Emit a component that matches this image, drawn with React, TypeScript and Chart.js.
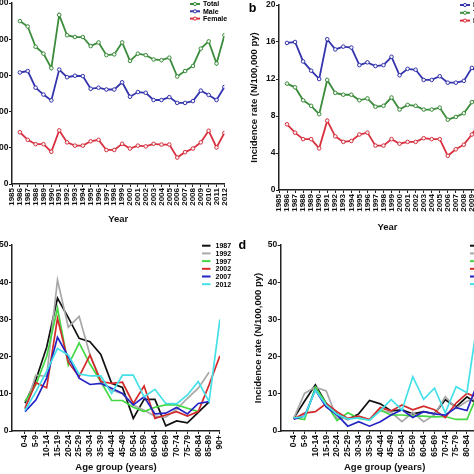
import React, { useEffect, useRef } from 'react';
import { Chart, registerables } from 'chart.js';

Chart.register(...registerables);

const FONT = '"Liberation Sans", Arial, Helvetica, sans-serif';

// ---------- panels a & b : calendar year ----------
const tickYears = [1985, 1986, 1987, 1988, 1989, 1990, 1991, 1992, 1993, 1994, 1995, 1996, 1997, 1998, 1999, 2000, 2001, 2002, 2003, 2004, 2005, 2006, 2007, 2008, 2009, 2010, 2011, 2012];
const dataYears = [1986, 1987, 1988, 1989, 1990, 1991, 1992, 1993, 1994, 1995, 1996, 1997, 1998, 1999, 2000, 2001, 2002, 2003, 2004, 2005, 2006, 2007, 2008, 2009, 2010, 2011, 2012];

const caseTicks = [0, 500, 1000, 1500, 2000, 2500];
const totalCases = [2250, 2175, 1895, 1800, 1600, 2335, 2055, 2030, 2030, 1905, 1955, 1780, 1790, 1955, 1700, 1800, 1780, 1720, 1710, 1745, 1485, 1560, 1630, 1870, 1970, 1665, 2055];
const maleCases = [1540, 1560, 1330, 1235, 1155, 1580, 1475, 1495, 1490, 1315, 1330, 1305, 1305, 1405, 1205, 1270, 1260, 1160, 1160, 1200, 1120, 1120, 1145, 1290, 1230, 1160, 1340];
const femaleCases = [715, 610, 550, 550, 445, 740, 575, 530, 530, 590, 610, 470, 470, 555, 490, 530, 520, 555, 545, 545, 365, 440, 490, 575, 735, 505, 705];

const rateTicks = [0, 4, 8, 12, 16, 20];
const maleRate = [15.9, 16.0, 13.9, 12.9, 12.0, 16.3, 15.2, 15.5, 15.4, 13.5, 13.8, 13.4, 13.5, 14.4, 12.4, 13.1, 13.0, 11.9, 11.9, 12.3, 11.6, 11.6, 11.8, 13.2, 12.6, 11.9, 13.7];
const totalRate = [11.5, 11.1, 9.7, 9.1, 8.2, 11.9, 10.5, 10.3, 10.3, 9.7, 9.9, 9.0, 9.1, 10.0, 8.7, 9.2, 9.1, 8.7, 8.7, 8.9, 7.6, 7.9, 8.3, 9.5, 10.0, 8.5, 10.4];
const femaleRate = [7.1, 6.2, 5.5, 5.5, 4.5, 7.5, 5.8, 5.2, 5.3, 6.0, 6.2, 4.8, 4.8, 5.5, 5.0, 5.2, 5.2, 5.6, 5.5, 5.5, 3.7, 4.4, 4.9, 6.0, 7.3, 5.0, 6.9];

// ---------- panels c & d : age group ----------
const ageGroups = ['0-4', '5-9', '10-14', '15-19', '20-24', '25-29', '30-34', '35-39', '40-44', '45-49', '50-54', '55-59', '60-64', '65-69', '70-74', '75-79', '80-84', '85-89', '90+'];
const ageRateTicks = [0, 10, 20, 30, 40, 50];

const cRate1987 = [7.5, 13.7, 22.5, 35.7, 30.5, 24.9, 24.0, 20.6, 12.8, 11.7, 3.4, 8.5, 8.5, 1.4, 2.7, 2.2, 5.0, 7.8, null];
const cRate1992 = [6.0, 15.0, 14.7, 40.6, 27.9, 30.8, 20.5, 13.7, 11.0, 10.0, 7.0, 5.6, 4.0, 3.7, 5.8, 8.8, 11.5, 15.8, null];
const cRate1997 = [8.0, 12.4, 20.0, 33.0, 17.7, 23.7, 18.0, 13.3, 8.2, 8.2, 6.4, 5.2, 6.4, 7.0, 7.0, 6.1, 5.2, null, null];
const cRate2002 = [6.0, 13.0, 11.6, 30.3, 18.5, 14.6, 20.4, 13.3, 12.8, 13.1, 7.4, 12.1, 3.4, 4.3, 5.2, 4.0, 5.2, 12.4, 20.2];
const cRate2007 = [5.2, 8.3, 14.2, 25.2, 20.0, 14.2, 12.5, 12.8, 11.5, 10.1, 7.0, 9.2, 4.6, 4.8, 6.3, 4.6, 7.4, 7.9, null];
const cRate2012 = [5.5, 10.5, 16.0, 22.2, 20.4, 15.3, 14.8, 14.8, 10.1, 15.0, 15.0, 9.2, 11.2, 7.4, 7.3, 9.7, 13.3, 7.9, 30.0];

const dRate1987 = [3.4, 8.0, 12.4, 7.4, 4.6, 3.1, 4.6, 8.2, 7.3, 5.4, 5.7, 4.6, 5.2, 4.6, 8.4, 6.5, 9.2, 7.2, 8.0];
const dRate1992 = [3.4, 10.1, 11.8, 10.8, 3.4, 3.3, 3.8, 3.0, 5.5, 5.0, 2.5, 5.0, 2.5, 4.3, 9.2, 6.1, 8.0, 9.0, 9.0];
const dRate1997 = [3.6, 3.1, 11.8, 7.4, 2.8, 4.9, 3.4, 3.0, 5.6, 4.3, 4.3, 4.0, 4.0, 3.8, 3.9, 3.1, 3.1, 10.0, 10.0];
const dRate2002 = [3.2, 4.8, 5.2, 7.4, 5.2, 3.4, 4.0, 3.1, 6.3, 5.4, 7.0, 5.7, 6.7, 5.7, 3.6, 7.5, 10.1, 9.0, 10.0];
const dRate2007 = [3.2, 4.0, 11.0, 6.5, 4.3, 1.3, 2.5, 1.3, 2.5, 4.3, 5.7, 3.6, 5.2, 4.6, 4.3, 6.3, 5.5, 13.0, 11.0];
const dRate2012 = [3.5, 3.9, 11.0, 7.0, 4.5, 3.2, 3.5, 2.9, 5.5, 8.5, 5.6, 14.6, 8.5, 11.5, 4.9, 11.9, 10.3, 30.0, 30.0];

// ---------- colours ----------
const GREEN = '#3b8c3b';
const BLUE = '#3434ae';
const RED = '#d8303e';
const C1987 = '#111111';
const C1992 = '#a8a8a8';
const C1997 = '#44d844';
const C2002 = '#d42a2a';
const C2007 = '#2424c4';
const C2012 = '#44e0e8';

type Geo = { left: number; top: number; w: number; h: number };
type Area = { l: number; t: number; r: number; b: number };
type Series = { label: string; values: (number | null)[]; color: string };
type LegendSpec = { x: number; y: number; dy: number; len: number; gap: number; marker: boolean };
type PanelSpec = {
  key: string;
  cv: Geo;
  area: Area;
  kind: 'year' | 'age';
  series: Series[];
  yTicks: number[];
  yTitle?: string;
  yTitleX?: number;
  xTitle: string;
  xTitleY: number;
  xTickSize: number;
  markers: boolean;
  legend: LegendSpec;
  letter?: { text: string; x: number; y: number };
};

const Y_TITLE = 'Incidence rate (N/100,000 py)';

const panels: PanelSpec[] = [
  {
    key: 'a',
    cv: { left: -45, top: -6, w: 280, h: 240 },
    area: { l: 12, t: 3, r: 225, b: 184 },
    kind: 'year',
    series: [
      { label: 'Total', values: totalCases, color: GREEN },
      { label: 'Male', values: maleCases, color: BLUE },
      { label: 'Female', values: femaleCases, color: RED },
    ],
    yTicks: caseTicks,
    xTitle: 'Year',
    xTitleY: 219.5,
    xTickSize: 8,
    markers: true,
    legend: { x: 190, y: 4, dy: 7.3, len: 10, gap: 3, marker: true },
  },
  {
    key: 'b',
    cv: { left: 237, top: -4, w: 290, h: 238 },
    area: { l: 279, t: 5, r: 496, b: 190 },
    kind: 'year',
    series: [
      { label: 'Male', values: maleRate, color: BLUE },
      { label: 'Total', values: totalRate, color: GREEN },
      { label: 'Female', values: femaleRate, color: RED },
    ],
    yTicks: rateTicks,
    yTitle: Y_TITLE,
    yTitleX: 254.5,
    xTitle: 'Year',
    xTitleY: 227.5,
    xTickSize: 8,
    markers: true,
    legend: { x: 460, y: 5, dy: 7.8, len: 10, gap: 3, marker: true },
    letter: { text: 'b', x: 248.7, y: 11.7 },
  },
  {
    key: 'c',
    cv: { left: -40, top: 236, w: 280, h: 238 },
    area: { l: 12, t: 245, r: 219.9, b: 431 },
    kind: 'age',
    series: [
      { label: '1987', values: cRate1987, color: C1987 },
      { label: '1992', values: cRate1992, color: C1992 },
      { label: '1997', values: cRate1997, color: C1997 },
      { label: '2002', values: cRate2002, color: C2002 },
      { label: '2007', values: cRate2007, color: C2007 },
      { label: '2012', values: cRate2012, color: C2012 },
    ],
    yTicks: ageRateTicks,
    xTitle: 'Age group (years)',
    xTitleY: 467,
    xTickSize: 8.5,
    markers: false,
    legend: { x: 202, y: 245.7, dy: 7.7, len: 8.5, gap: 5, marker: false },
  },
  {
    key: 'd',
    cv: { left: 237, top: 236, w: 300, h: 238 },
    area: { l: 280.7, t: 245, r: 488.6, b: 431 },
    kind: 'age',
    series: [
      { label: '1987', values: dRate1987, color: C1987 },
      { label: '1992', values: dRate1992, color: C1992 },
      { label: '1997', values: dRate1997, color: C1997 },
      { label: '2002', values: dRate2002, color: C2002 },
      { label: '2007', values: dRate2007, color: C2007 },
      { label: '2012', values: dRate2012, color: C2012 },
    ],
    yTicks: ageRateTicks,
    yTitle: Y_TITLE,
    yTitleX: 258.5,
    xTitle: 'Age group (years)',
    xTitleY: 467,
    xTickSize: 8.5,
    markers: false,
    legend: { x: 470, y: 245.7, dy: 7.7, len: 8.5, gap: 5, marker: false },
    letter: { text: 'd', x: 238.5, y: 248.5 },
  },
];

function makeDecor(s: PanelSpec) {
  return {
    id: 'decor_' + s.key,
    afterDraw(chart: any) {
      const ctx: CanvasRenderingContext2D = chart.ctx;
      const ox = s.cv.left;
      const oy = s.cv.top;
      ctx.save();
      if (s.letter) {
        ctx.font = `bold 12.5px ${FONT}`;
        ctx.fillStyle = '#000';
        ctx.textAlign = 'left';
        ctx.textBaseline = 'alphabetic';
        ctx.fillText(s.letter.text, s.letter.x - ox, s.letter.y - oy);
      }
      const lg = s.legend;
      chart.data.datasets.forEach((d: any, i: number) => {
        const y = lg.y + i * lg.dy - oy;
        const x0 = lg.x - ox;
        ctx.strokeStyle = d.borderColor;
        ctx.lineWidth = 2;
        ctx.beginPath();
        ctx.moveTo(x0, y);
        ctx.lineTo(x0 + lg.len, y);
        ctx.stroke();
        if (lg.marker) {
          ctx.beginPath();
          ctx.arc(x0 + lg.len / 2, y, 1.6, 0, Math.PI * 2);
          ctx.fillStyle = '#f4f4f4';
          ctx.fill();
          ctx.lineWidth = 1;
          ctx.stroke();
        }
        ctx.fillStyle = '#000';
        ctx.font = `bold 7px ${FONT}`;
        ctx.textAlign = 'left';
        ctx.textBaseline = 'middle';
        ctx.fillText(d.label, x0 + lg.len + lg.gap, y + 0.5);
      });
      ctx.restore();
    },
  };
}

function buildConfig(s: PanelSpec): any {
  const padTop = s.area.t - s.cv.top;
  const yW = s.area.l - s.cv.left;
  const padRight = s.cv.left + s.cv.w - s.area.r;
  const xH = s.cv.top + s.cv.h - s.area.b;
  const isYear = s.kind === 'year';
  const xVals: number[] = isYear ? dataYears : ageGroups.map((_, i) => i);
  const xTickVals: number[] = isYear ? tickYears : ageGroups.map((_, i) => i);
  const titleSize = 9.5;
  const lh = titleSize * 1.2;
  const xTitlePad = Math.max(0, s.cv.top + s.cv.h - s.xTitleY - lh / 2);
  const yTitlePad = s.yTitleX !== undefined ? Math.max(0, s.yTitleX - s.cv.left - lh / 2) : 0;

  const datasets = s.series.map((se, i) => ({
    label: se.label,
    data: se.values.map((v, j) => ({ x: xVals[j], y: v })),
    borderColor: se.color,
    backgroundColor: se.color,
    borderWidth: s.markers ? 1.8 : 1.7,
    pointRadius: s.markers ? 1.8 : 0,
    pointHoverRadius: 0,
    pointBorderWidth: 1,
    pointBackgroundColor: '#f4f4f4',
    pointBorderColor: se.color,
    tension: 0,
    spanGaps: false,
    fill: false,
    order: -i,
  }));

  const gridCfg = { display: true, drawOnChartArea: false, drawTicks: true, tickLength: 3, color: '#222', lineWidth: 1 };
  const borderCfg = { display: true, color: '#222', width: 1.5 };

  return {
    type: 'line',
    data: { datasets },
    plugins: [makeDecor(s)],
    options: {
      animation: false,
      responsive: false,
      devicePixelRatio: 1,
      events: [],
      layout: { padding: { top: padTop, right: padRight, bottom: 0, left: 0 } },
      plugins: { legend: { display: false }, tooltip: { enabled: false }, title: { display: false } },
      scales: {
        x: {
          type: 'linear',
          position: 'bottom',
          min: isYear ? tickYears[0] : -1.2,
          max: isYear ? tickYears[tickYears.length - 1] : ageGroups.length - 1,
          afterBuildTicks: (sc: any) => {
            sc.ticks = xTickVals.map((v) => ({ value: v }));
          },
          afterFit: (sc: any) => {
            sc.height = xH;
          },
          grid: gridCfg,
          border: borderCfg,
          ticks: {
            autoSkip: false,
            minRotation: 90,
            maxRotation: 90,
            padding: 1,
            color: '#111',
            font: { family: FONT, size: s.xTickSize, weight: 'bold' },
            callback: (v: any) => (isYear ? String(v) : ageGroups[v] ?? ''),
          },
          title: {
            display: true,
            text: s.xTitle,
            color: '#111',
            font: { family: FONT, size: titleSize, weight: 'bold' },
            padding: { top: 0, bottom: xTitlePad },
          },
        },
        y: {
          type: 'linear',
          min: s.yTicks[0],
          max: s.yTicks[s.yTicks.length - 1],
          afterBuildTicks: (sc: any) => {
            sc.ticks = s.yTicks.map((v) => ({ value: v }));
          },
          afterFit: (sc: any) => {
            sc.width = yW;
          },
          grid: gridCfg,
          border: borderCfg,
          ticks: {
            padding: 0.5,
            color: '#111',
            font: { family: FONT, size: 8.5, weight: 'bold' },
            callback: (v: any) => String(v),
          },
          title: s.yTitle
            ? {
                display: true,
                text: s.yTitle,
                color: '#111',
                font: { family: FONT, size: titleSize, weight: 'bold' },
                padding: { top: yTitlePad, bottom: 0 },
              }
            : { display: false },
        },
      },
    },
  };
}

function Panel({ spec }: { spec: PanelSpec }) {
  const ref = useRef<HTMLCanvasElement>(null);
  useEffect(() => {
    if (!ref.current) return;
    const chart = new Chart(ref.current, buildConfig(spec));
    return () => chart.destroy();
  }, [spec]);
  return (
    <canvas
      ref={ref}
      width={spec.cv.w}
      height={spec.cv.h}
      style={{ position: 'absolute', left: spec.cv.left, top: spec.cv.top, width: spec.cv.w, height: spec.cv.h }}
    />
  );
}

export default function App() {
  useEffect(() => {
    document.body.style.margin = '0';
  }, []);
  return (
    <div
      style={{
        position: 'fixed',
        left: 0,
        top: 0,
        width: 474,
        height: 474,
        overflow: 'hidden',
        background: '#ffffff',
      }}
    >
      {panels.map((p) => (
        <Panel key={p.key} spec={p} />
      ))}
    </div>
  );
}
